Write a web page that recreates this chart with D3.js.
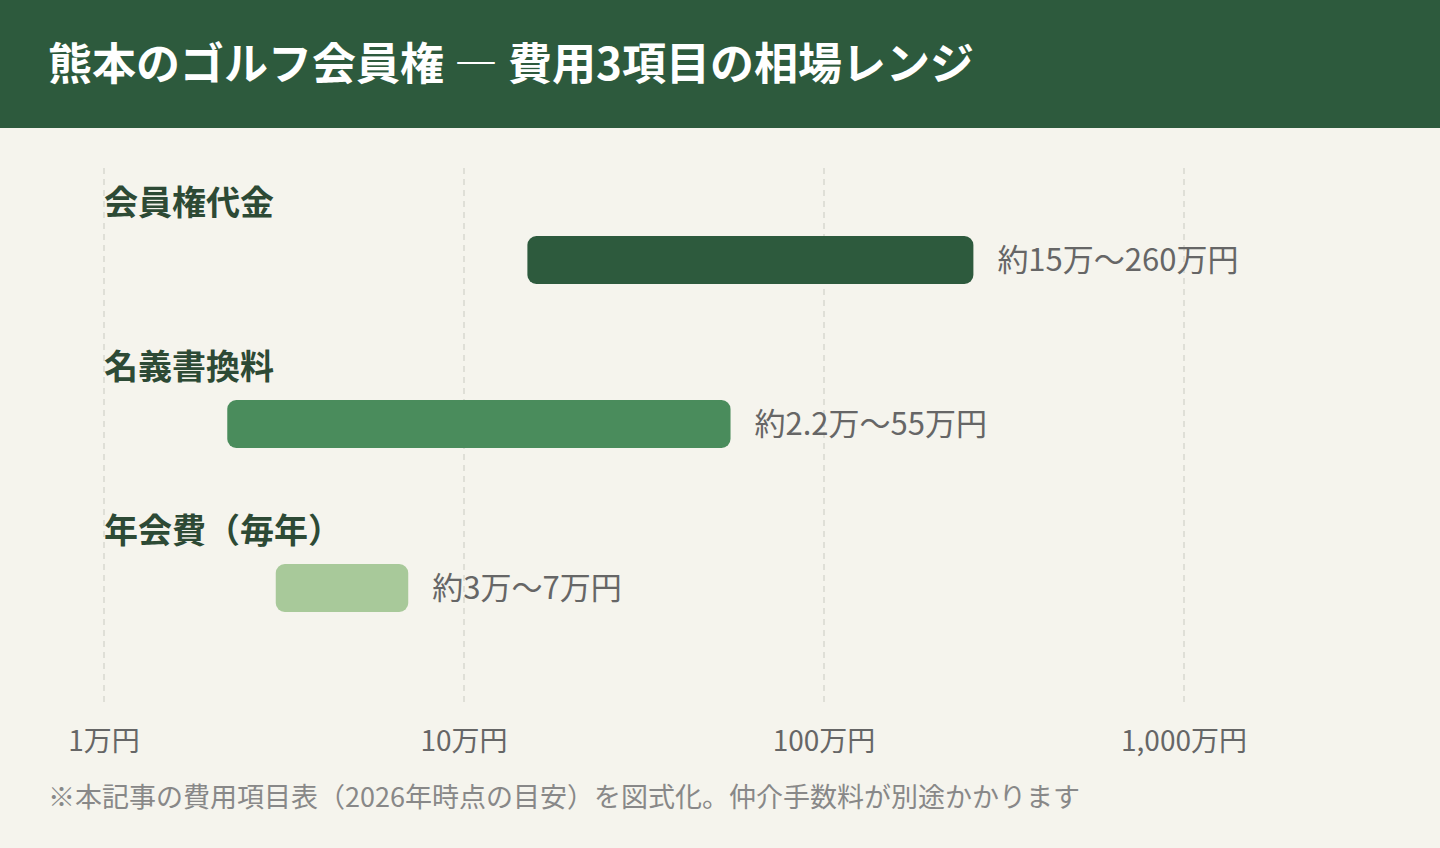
<!DOCTYPE html>
<html><head><meta charset="utf-8">
<script src="https://cdn.jsdelivr.net/npm/d3@7"></script>
<style>body{margin:0;background:#f5f4ed}svg{display:block}</style>
</head><body><svg width="1440" height="848"></svg>
<script>
const categories = ['会員権代金', '名義書換料', '年会費（毎年）'];
const lows = [15, 2.2, 3];
const highs = [260, 55, 7];
const valueLabels = ['約15万〜260万円', '約2.2万〜55万円', '約3万〜7万円'];
const colors = ['#2d5a3d', '#4a8c5c', '#a8c99a'];
const tickValues = [1, 10, 100, 1000];
const tickLabels = ['1万円', '10万円', '100万円', '1,000万円'];

let svg = d3.select('svg');
let font = '"Noto Sans CJK JP", "Noto Sans", sans-serif';
svg.append('rect').attr('width', 1440).attr('height', 848).attr('fill', '#f5f4ed');
svg.append('rect').attr('width', 1440).attr('height', 128).attr('fill', '#2d5a3d');
svg.append('text').attr('x', 48).attr('y', 80).attr('fill', '#fff')
  .attr('font-family', font).attr('font-size', 44).attr('font-weight', 700)
  .text('熊本のゴルフ会員権 ― 費用3項目の相場レンジ');

let x = d3.scaleLog().domain([1, 1000]).range([104, 1184]);
let rowY = d3.scalePoint().domain(categories).range([236, 564]);

svg.append('g').selectAll('line').data(tickValues).join('line')
  .attr('x1', d => x(d)).attr('x2', d => x(d)).attr('y1', 168).attr('y2', 705)
  .attr('stroke', '#d8d8d0').attr('stroke-width', 1.5).attr('stroke-dasharray', '6,5');

svg.append('g').selectAll('text').data(tickValues).join('text')
  .attr('x', d => x(d)).attr('y', 751).attr('text-anchor', 'middle')
  .attr('font-family', font).attr('font-size', 28).attr('fill', '#666')
  .text((d, i) => tickLabels[i]);

let rows = svg.append('g').selectAll('g').data(categories).join('g');
rows.append('text').attr('x', 104).attr('y', c => rowY(c) - 21)
  .attr('font-family', font).attr('font-size', 34).attr('font-weight', 700).attr('fill', '#2d4a35')
  .text(c => c);
rows.append('rect')
  .attr('x', (c, i) => x(lows[i])).attr('y', c => rowY(c))
  .attr('width', (c, i) => x(highs[i]) - x(lows[i])).attr('height', 48)
  .attr('rx', 9).attr('fill', (c, i) => colors[i]);
rows.append('text').attr('x', (c, i) => x(highs[i]) + 24).attr('y', c => rowY(c) + 35)
  .attr('font-family', font).attr('font-size', 31).attr('fill', '#666')
  .text((c, i) => valueLabels[i]);

svg.append('text').attr('x', 48).attr('y', 807)
  .attr('font-family', font).attr('font-size', 27).attr('fill', '#888')
  .text('※本記事の費用項目表（2026年時点の目安）を図式化。仲介手数料が別途かかります');
</script></body></html>
